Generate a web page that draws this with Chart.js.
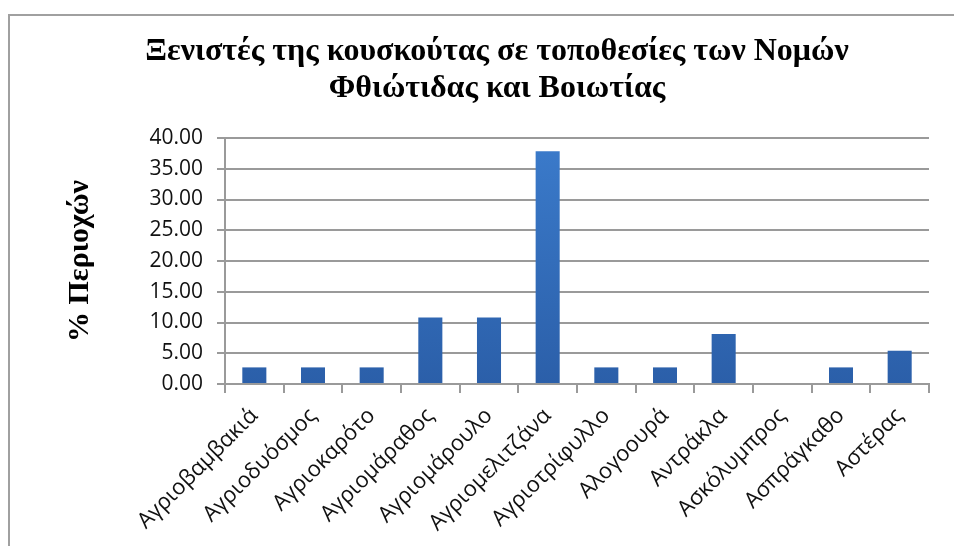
<!DOCTYPE html>
<html>
<head>
<meta charset="utf-8">
<script src="https://cdn.jsdelivr.net/npm/chart.js@4/dist/chart.umd.min.js"></script>
<style>
    html, body { margin: 0; padding: 0; background: #fff; }
    #wrap { width: 954px; height: 546px; }
</style>
</head>
<body>
<div id="wrap"><canvas id="chart" width="954" height="546"></canvas></div>
<script>
const categories = ['Αγριοβαμβακιά', 'Αγριοδυόσμος', 'Αγριοκαρότο', 'Αγριομάραθος', 'Αγριομάρουλο',
    'Αγριομελιτζάνα', 'Αγριοτρίφυλλο', 'Αλογοουρά', 'Αντράκλα', 'Ασκόλυμπρος', 'Ασπράγκαθο', 'Αστέρας'];
const percentages = [2.70, 2.70, 2.70, 10.81, 10.81, 37.84, 2.70, 2.70, 8.11, 0, 2.70, 5.41];
const titleLines = ['Ξενιστές της κουσκούτας σε τοποθεσίες των Νομών', 'Φθιώτιδας και Βοιωτίας'];
const yTitle = '% Περιοχών';

// frame, title and rotated y title drawn by hand (the built-in ones sit in the wrong spots)
const decorPlugin = {
    id: 'decor',
    beforeDraw(chart) {
        const ctx = chart.ctx;
        ctx.save();
        ctx.strokeStyle = '#a0a0a0';
        ctx.lineWidth = 2;
        ctx.strokeRect(9, 15, 1000, 600);
        ctx.restore();
    },
    afterDraw(chart) {
        const ctx = chart.ctx;
        const area = chart.chartArea;
        ctx.save();
        ctx.fillStyle = '#000';
        ctx.textAlign = 'center';
        ctx.font = 'bold 32px "Liberation Serif"';
        ctx.textBaseline = 'alphabetic';
        ctx.fillText(titleLines[0], 497, 60);
        ctx.fillText(titleLines[1], 497, 97);

        ctx.translate(80, (area.top + area.bottom) / 2);
        ctx.rotate(-Math.PI / 2);
        ctx.font = 'bold 30px "Liberation Serif"';
        ctx.textBaseline = 'middle';
        ctx.fillText(yTitle, 0, 0);
        ctx.restore();
    }
};

function barGradient(context) {
    const { chart } = context;
    const area = chart.chartArea;
    if (!area) return '#3570c0';
    const g = chart.ctx.createLinearGradient(0, area.top, 0, area.bottom);
    g.addColorStop(0, '#3b7bcb');
    g.addColorStop(1, '#2b5fa9');
    return g;
}

new Chart('chart', {
    type: 'bar',
    data: {
        labels: categories,
        datasets: [{
            data: percentages,
            backgroundColor: barGradient,
            borderWidth: 0,
            barPercentage: 0.82,
            categoryPercentage: 0.5
        }]
    },
    plugins: [decorPlugin],
    options: {
        responsive: false,
        animation: false,
        layout: { padding: { top: 138, left: 0, right: 25, bottom: 0 } },
        plugins: {
            legend: { display: false },
            tooltip: { enabled: false },
            title: { display: false }
        },
        scales: {
            y: {
                min: 0,
                max: 40,
                ticks: {
                    stepSize: 5,
                    color: '#111',
                    padding: 14,
                    font: { family: 'Open Sans', size: 21 },
                    callback: v => v.toFixed(2)
                },
                grid: { color: '#9a9a9a', lineWidth: 2, tickLength: 8 },
                border: { display: true, color: '#9a9a9a', width: 2 },
                afterFit(scale) { scale.width = 225; }
            },
            x: {
                ticks: {
                    color: '#111',
                    minRotation: 45,
                    maxRotation: 45,
                    padding: 10,
                    font: { family: 'Open Sans', size: 22 }
                },
                grid: { display: true, drawOnChartArea: false, color: '#9a9a9a', lineWidth: 2, tickLength: 9 },
                border: { display: true, color: '#9a9a9a', width: 2 },
                afterFit(scale) { scale.height = 162; }
            }
        }
    }
});
</script>
</body>
</html>
